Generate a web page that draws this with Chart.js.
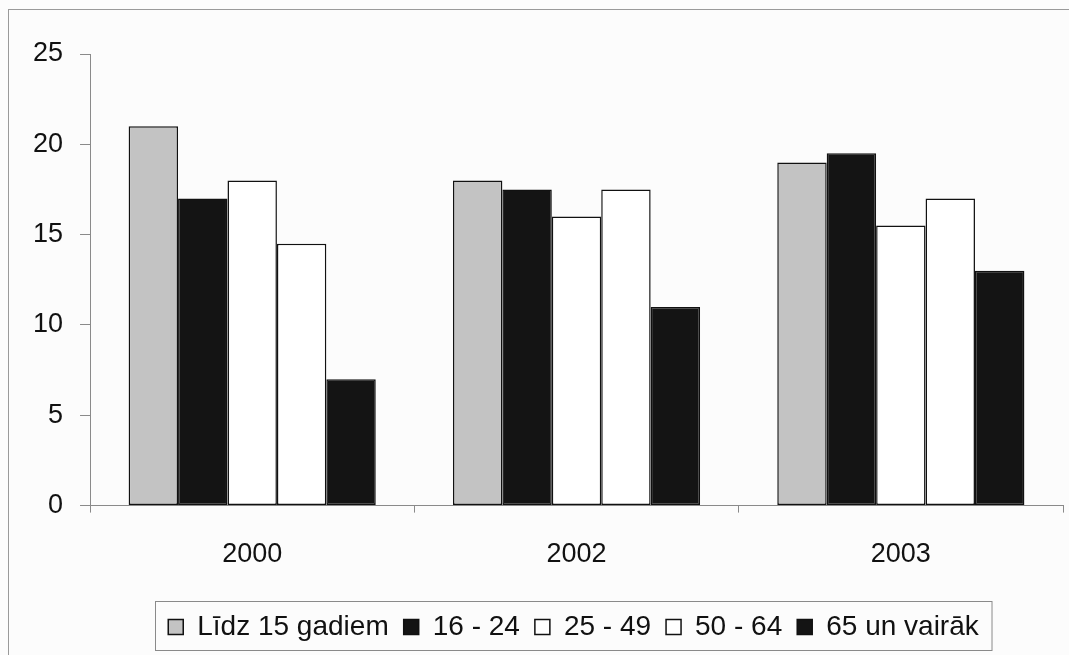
<!DOCTYPE html>
<html>
<head>
<meta charset="utf-8">
<script src="https://cdn.jsdelivr.net/npm/chart.js@4.4.0/dist/chart.umd.min.js"></script>
<style>
  html, body { margin: 0; padding: 0; background: #fcfcfc; }
  #wrap { width: 1069px; height: 655px; position: relative; }
</style>
</head>
<body>
<div id="wrap"><canvas id="ageChart" width="1069" height="655"></canvas></div>
<script>
// data
const years = ['2000', '2002', '2003'];
const under15 = [21, 18, 19];
const age16to24 = [17, 17.5, 19.5];
const age25to49 = [18, 16, 15.5];
const age50to64 = [14.5, 17.5, 17];
const age65plus = [7, 11, 13];
const yTicks = [0, 5, 10, 15, 20, 25];

const font = { family: 'Liberation Sans, Arial, sans-serif', size: 27 };
const legendFont = { family: 'Liberation Sans, Arial, sans-serif', size: 28 };

// outer frame + box round the legend; legend nudged right like the original
const framePlugin = {
    id: 'frame',
    afterLayout(chart) {
        chart.legend.left += 34;
        chart.legend.right += 34;
    },
    afterDraw(chart) {
        const c = chart.ctx;
        c.save();
        c.strokeStyle = '#9a9a9a';
        c.lineWidth = 1;
        c.strokeRect(8.5, 9.5, 1070, 660);
        const boxes = chart.legend.legendHitBoxes;
        if (boxes && boxes.length) {
            let l = Infinity, r = -Infinity, t = Infinity, b = -Infinity;
            boxes.forEach(h => {
                l = Math.min(l, h.left); r = Math.max(r, h.left + h.width);
                t = Math.min(t, h.top); b = Math.max(b, h.top + h.height);
            });
            c.strokeStyle = '#8a8a8a';
            c.strokeRect(Math.round(l) - 12.5, Math.round(t) - 11.5, r - l + 26, b - t + 21);
        }
        c.restore();
    }
};

function bar(label, data, fill) {
    return {
        label: label,
        data: data,
        backgroundColor: fill,
        borderColor: '#111',
        borderWidth: 1.5,
        borderSkipped: false
    };
}

const ctx = document.getElementById('ageChart').getContext('2d');
new Chart(ctx, {
    type: 'bar',
    data: {
        labels: years,
        datasets: [
            bar('Līdz 15 gadiem', under15, '#c3c3c3'),
            bar('16 - 24', age16to24, '#141414'),
            bar('25 - 49', age25to49, '#ffffff'),
            bar('50 - 64', age50to64, '#ffffff'),
            bar('65 un vairāk', age65plus, '#141414')
        ]
    },
    options: {
        responsive: false,
        animation: false,
        layout: { padding: { left: 16, right: 6, top: 54, bottom: 4 } },
        categoryPercentage: 0.762,
        barPercentage: 1,
        scales: {
            x: {
                grid: { drawOnChartArea: false, tickLength: 7, color: '#8a8a8a', offset: true },
                border: { color: '#8a8a8a' },
                ticks: { color: '#111', font: font, padding: 26 },
                afterFit(scale) { scale.height += 1; }
            },
            y: {
                min: 0,
                max: 25,
                afterBuildTicks(scale) { scale.ticks = yTicks.map(v => ({ value: v })); },
                grid: { drawOnChartArea: false, tickLength: 10, color: '#8a8a8a' },
                border: { color: '#8a8a8a' },
                ticks: { color: '#111', font: font, padding: 17 }
            }
        },
        plugins: {
            legend: {
                position: 'bottom',
                labels: {
                    color: '#111',
                    font: legendFont,
                    boxWidth: 15,
                    boxHeight: 15,
                    padding: 15
                }
            },
            tooltip: { enabled: false }
        }
    },
    plugins: [framePlugin]
});
</script>
</body>
</html>
